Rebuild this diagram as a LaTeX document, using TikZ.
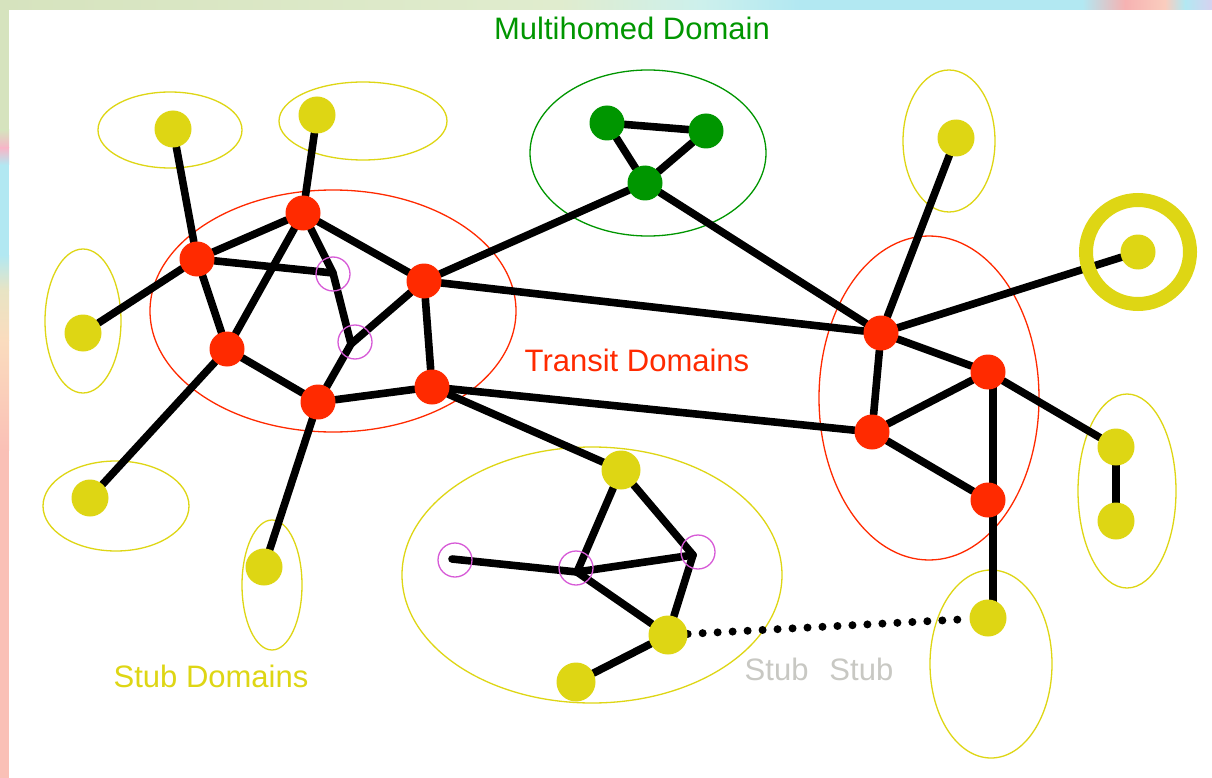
\documentclass[tikz,border=0pt]{standalone}
\usepackage{fontspec}
\setmainfont{Liberation Sans}
\definecolor{tred}{RGB}{255,42,0}
\definecolor{tgreen}{RGB}{0,150,0}
\definecolor{tyel}{RGB}{222,214,20}
\definecolor{tpur}{RGB}{215,90,215}
\definecolor{tgrey}{RGB}{200,200,195}
\definecolor{bgA}{RGB}{214,227,190}
\definecolor{bgB}{RGB}{224,236,206}
\definecolor{bgC}{RGB}{205,240,236}
\definecolor{bgD}{RGB}{178,232,242}
\definecolor{bgE}{RGB}{246,178,178}
\definecolor{bgF}{RGB}{250,205,190}
\definecolor{bgG}{RGB}{215,210,240}
\definecolor{bgP}{RGB}{246,182,200}
\definecolor{bgY}{RGB}{232,228,196}
\definecolor{bgH}{RGB}{250,220,190}
\definecolor{bgS}{RGB}{250,192,182}
\pgfdeclarelayer{bg}
\pgfsetlayers{bg,main}
\begin{document}
\begin{tikzpicture}[x=1pt,y=-1pt,
  link/.style={line width=7.6pt, line cap=round, line join=round, draw=black},
  dotlink/.style={line width=8pt, line cap=round, draw=black, dash pattern=on 0pt off 15pt},
  rnode/.style={circle, fill=tred, minimum size=35pt, inner sep=0pt},
  gnode/.style={circle, fill=tgreen, minimum size=35pt, inner sep=0pt},
  ynode/.style={circle, fill=tyel, minimum size=37pt, inner sep=0pt},
  pcirc/.style={circle, draw=tpur, line width=1.3pt, minimum size=34pt, inner sep=0pt},
  dom/.style={line width=1.3pt},
  lbl/.style={inner sep=0pt, anchor=base, font=\fontsize{31}{36}\selectfont}
]
\useasboundingbox (0,0) rectangle (1212,778);
% nodes
\node[rnode] (R1) at (197,259) {};
\node[rnode] (R2) at (303,213) {};
\node[rnode] (R3) at (424,281) {};
\node[rnode] (R4) at (227,349) {};
\node[rnode] (R5) at (318,402) {};
\node[rnode] (R6) at (432,387) {};
\node[rnode] (R7) at (881,333) {};
\node[rnode] (R8) at (988,372) {};
\node[rnode] (R9) at (872,432) {};
\node[rnode] (R10) at (988,500) {};
\node[gnode] (G1) at (607,123) {};
\node[gnode] (G2) at (706,131) {};
\node[gnode] (G3) at (645,183) {};
\node[ynode] (Y1) at (173,129) {};
\node[ynode] (Y2) at (317,115) {};
\node[ynode] (Y3) at (83,333) {};
\node[ynode] (Y4) at (90,498) {};
\node[ynode] (Y5) at (264,567) {};
\node[ynode] (Y6) at (956,138) {};
\node[ynode, minimum size=35pt] (Y7) at (1138,252) {};
\node[ynode] (Y8) at (1116,447) {};
\node[ynode] (Y9) at (1116,521) {};
\node[ynode] (Y10) at (988,618) {};
\node[ynode, minimum size=39pt] (Y11) at (621,470) {};
\node[ynode, minimum size=39pt] (Y12) at (668,635) {};
\node[ynode, minimum size=39pt] (Y13) at (576,682) {};
\coordinate (J1) at (333,273);
\coordinate (J2) at (351,344);
\coordinate (J3) at (452,559);
\coordinate (J4) at (577,572);
\coordinate (J5) at (693,555);
\begin{pgfonlayer}{bg}
  \fill[white] (0,0) rectangle (1212,778);
  % top strip
  \fill[left color=bgA, right color=bgB] (0,0) rectangle (560,10);
  \fill[left color=bgB, right color=bgC] (560,0) rectangle (700,10);
  \fill[left color=bgC, right color=bgD] (700,0) rectangle (800,10);
  \fill[bgD] (800,0) rectangle (1082,10);
  \fill[left color=bgD, right color=bgE] (1082,0) rectangle (1125,10);
  \fill[left color=bgE, right color=bgF] (1125,0) rectangle (1165,10);
  \fill[left color=bgF, right color=bgD] (1165,0) rectangle (1185,10);
  \fill[left color=bgD, right color=bgG] (1185,0) rectangle (1212,10);
  % left strip
  \fill[bgA] (0,0) rectangle (9,130);
  \fill[top color=bgA, bottom color=bgP] (0,130) rectangle (9,148);
  \fill[top color=bgP, bottom color=bgD] (0,148) rectangle (9,165);
  \fill[bgD] (0,165) rectangle (9,255);
  \fill[top color=bgD, bottom color=bgY] (0,255) rectangle (9,290);
  \fill[top color=bgY, bottom color=bgH] (0,290) rectangle (9,340);
  \fill[top color=bgH, bottom color=bgS] (0,340) rectangle (9,450);
  \fill[bgS] (0,450) rectangle (9,778);
  % domains
  \draw[dom, tyel] (170,130) ellipse [x radius=72, y radius=38];
  \draw[dom, tyel] (363,121) ellipse [x radius=84, y radius=39];
  \draw[dom, tyel] (83,321) ellipse [x radius=38, y radius=72];
  \draw[dom, tyel] (116,506) ellipse [x radius=73, y radius=45];
  \draw[dom, tyel] (272,585) ellipse [x radius=30, y radius=65];
  \draw[dom, tgreen] (648,153) ellipse [x radius=118, y radius=83];
  \draw[dom, tyel] (949,141) ellipse [x radius=46, y radius=71];
  \draw[dom, tred] (333,311) ellipse [x radius=183, y radius=121];
  \draw[dom, tred] (929,398) ellipse [x radius=110, y radius=162];
  \draw[dom, tyel] (1127,491) ellipse [x radius=49, y radius=97];
  \draw[dom, tyel] (991,664) ellipse [x radius=61, y radius=94];
  \draw[dom, tyel] (592,575) ellipse [x radius=190, y radius=128];
  % links
  \draw[link] (Y1) -- (R1);
  \draw[link] (Y2) -- (R2);
  \draw[link] (Y3) -- (R1);
  \draw[link] (Y4) -- (R4);
  \draw[link] (Y5) -- (R5);
  \draw[link] (R1) -- (R2);
  \draw[link] (R1) -- (R4);
  \draw[link] (R2) -- (R4);
  \draw[link] (R1) -- (J1);
  \draw[link] (R2) -- (J1) -- (J2);
  \draw[link] (J2) -- (R3);
  \draw[link] (J2) -- (R5);
  \draw[link] (R2) -- (R3);
  \draw[link] (R3) -- (R6);
  \draw[link] (R4) -- (R5);
  \draw[link] (R5) -- (R6);
  \draw[link] (R3) -- (G3);
  \draw[link] (R3) -- (R7);
  \draw[link] (R6) -- (R9);
  \draw[link] (R6) -- (Y11);
  \draw[link] (G1) -- (G2);
  \draw[link] (G1) -- (G3);
  \draw[link] (G2) -- (G3);
  \draw[link] (G3) -- (R7);
  \draw[link] (R7) -- (Y6);
  \draw[link] (R7) -- (Y7);
  \draw[link] (R7) -- (R8);
  \draw[link] (R7) -- (R9);
  \draw[link] (R8) -- (R9);
  \draw[link] (R9) -- (R10);
  \draw[link] ([xshift=5pt]R8.center) -- ([xshift=5pt]R10.center);
  \draw[link] ([xshift=5pt]R10.center) -- ([xshift=5pt]Y10.center);
  \draw[link] (R8) -- (Y8);
  \draw[link] (Y8) -- (Y9);
  \draw[link] (Y11) -- (J4);
  \draw[link] (Y11) -- (J5);
  \draw[link] (J3) -- (J4);
  \draw[link] (J4) -- (J5);
  \draw[link] (J4) -- (Y12);
  \draw[link] (J5) -- (Y12);
  \draw[link] (Y12) -- (Y13);
  \draw[dotlink] (Y12) -- (Y10);
\end{pgfonlayer}
% ring round the single stub
\draw[tyel, line width=14pt] (Y7.center) circle [radius=52];
% purple junction markers
\node[pcirc] (P1) at (333,274) {};
\node[pcirc] (P2) at (355,342) {};
\node[pcirc] (P3) at (455,560) {};
\node[pcirc] (P4) at (576,568) {};
\node[pcirc] (P5) at (698,552) {};
% labels
\node[lbl, text=tgreen] (Lm) at (632,40) {Multihomed Domain};
\node[lbl, text=tred] (Lt) at (637,371) {Transit Domains};
\node[lbl, text=tyel] (Ls) at (211,687) {Stub Domains};
\node[lbl, text=tgrey] (Lss) at (819,680) {Stub\hspace{21pt}Stub};
\end{tikzpicture}
\end{document}
